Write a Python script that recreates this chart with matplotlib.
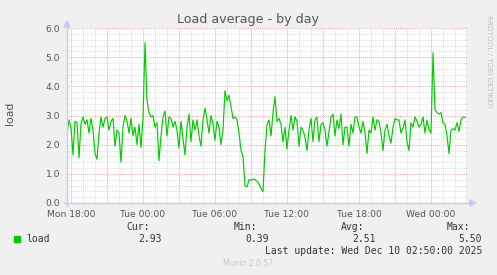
import matplotlib
matplotlib.use('Agg')
import matplotlib.pyplot as plt
import numpy as np

# load samples, 10 minute steps from Mon 17:40 to Wed 02:50
load = [
    2.40, 2.85, 2.60, 1.65, 2.80, 2.75, 1.55, 2.70, 2.95, 2.70,
    2.85, 2.40, 2.90, 2.50, 1.70, 1.50, 2.40, 2.95, 2.60, 2.90,
    2.95, 2.50, 2.80, 2.90, 1.95, 2.50, 2.40, 1.40, 2.60, 3.00,
    2.80, 2.40, 2.90, 2.30, 2.60, 2.00, 2.70, 1.90, 2.90, 5.50,
    3.50, 3.10, 2.95, 3.00, 2.60, 2.75, 1.45, 2.30, 2.95, 3.15,
    2.30, 2.95, 2.90, 2.60, 2.80, 2.50, 1.90, 2.80, 2.20, 1.65,
    2.60, 3.05, 2.10, 2.85, 2.50, 2.85, 2.30, 1.95, 2.85, 3.25,
    2.85, 2.40, 3.00, 2.70, 2.15, 2.80, 2.60, 2.00, 2.50, 3.85,
    3.50, 3.70, 3.30, 2.90, 2.95, 2.85, 2.40, 1.80, 1.60, 0.60,
    0.55, 0.80, 0.78, 0.82, 0.80, 0.75, 0.65, 0.50, 0.39, 1.80,
    2.70, 2.85, 2.30, 3.10, 3.65, 2.80, 2.90, 2.70, 2.10, 2.60,
    1.85, 2.50, 3.00, 2.50, 2.95, 2.80, 1.95, 2.60, 2.50, 2.25,
    1.80, 2.50, 2.90, 2.10, 2.85, 2.95, 2.10, 2.70, 2.75, 2.50,
    1.95, 2.45, 2.95, 3.05, 2.30, 2.85, 2.55, 3.05, 2.00, 2.60,
    2.60, 1.95, 2.70, 2.40, 2.95, 2.95, 2.60, 2.40, 2.80, 2.40,
    1.70, 2.50, 2.40, 2.95, 2.50, 2.85, 2.80, 2.40, 1.80, 2.50,
    2.70, 2.30, 2.05, 2.60, 2.90, 2.85, 2.85, 2.40, 2.55, 2.85,
    2.10, 1.80, 2.75, 2.60, 2.95, 2.80, 2.60, 2.70, 2.95, 2.40,
    2.85, 2.50, 2.40, 5.15, 3.20, 3.10, 3.05, 3.10, 2.75, 2.70,
    2.30, 1.70, 2.50, 2.55, 2.50, 2.75, 2.45, 2.85, 2.95, 2.93,
]
start_h = -1 / 3      # Mon 17:40, hours relative to Mon 18:00
step_h = 1 / 6
x_labels = ['Mon 18:00', 'Tue 00:00', 'Tue 06:00', 'Tue 12:00', 'Tue 18:00', 'Wed 00:00']
y_ticks = [0.0, 1.0, 2.0, 3.0, 4.0, 5.0, 6.0]
stats = {'Cur:': '2.93', 'Min:': '0.39', 'Avg:': '2.51', 'Max:': '5.50'}
last_update = 'Last update: Wed Dec 10 02:50:00 2025'

W, H = 497, 275
fig = plt.figure(figsize=(W / 100, H / 100), dpi=100)
fig.patch.set_facecolor('#F0F0F0')

# plot area: x 67..467, y 28..203 px
ax = fig.add_axes([67 / W, 1 - 203 / H, 400 / W, 175 / H])
ax.set_facecolor('white')

t = start_h + step_h * np.arange(len(load))
ax.set_xlim(-1 / 3, 33)
ax.set_ylim(0, 6)

dot = (0, (1, 1))
for h in range(0, 34):
    if h % 3 == 0:
        ax.axvline(h, color='#F2A8A8', lw=0.7, ls=dot, zorder=1)
    else:
        ax.axvline(h, color='#DCDCDC', lw=0.7, ls=dot, zorder=0)
for v in np.arange(0.2, 6.01, 0.2):
    if abs(v - round(v)) < 1e-6:
        ax.axhline(v, color='#F2A8A8', lw=0.7, ls=dot, zorder=1)
    else:
        ax.axhline(v, color='#DCDCDC', lw=0.7, ls=dot, zorder=0)

ax.plot(t, load, color='#00CC00', lw=0.85, zorder=3)

for s in ax.spines.values():
    s.set_visible(False)
ax.axvline(33, color='#999999', lw=1.0, zorder=4)
ax.tick_params(length=0)
ax.set_xticks([0, 6, 12, 18, 24, 30])
ax.set_xticklabels(x_labels, fontsize=6.6, color='#555555')
ax.set_yticks(y_ticks)
ax.set_yticklabels([f'{v:.1f}' for v in y_ticks], fontsize=6.6, color='#555555')
ax.tick_params(axis='x', pad=5)
ax.tick_params(axis='y', pad=5)

# axis lines with arrows (figure pixel coords)
axc = '#C8C8F4'
fig.add_artist(plt.Line2D([67 / W, 67 / W], [1 - 206 / H, 1 - 24 / H], color=axc, lw=1.0))
fig.add_artist(plt.Line2D([64 / W, 470 / W], [1 - 203 / H, 1 - 203 / H], color=axc, lw=1.0))
fig.add_artist(plt.Polygon([[64 / W, 1 - 27 / H], [70 / W, 1 - 27 / H], [67 / W, 1 - 21 / H]],
                           closed=True, color=axc, transform=fig.transFigure))
fig.add_artist(plt.Polygon([[470 / W, 1 - 200 / H], [470 / W, 1 - 206 / H], [476 / W, 1 - 203 / H]],
                           closed=True, color=axc, transform=fig.transFigure))

fig.text(248 / W, 1 - 19 / H, 'Load average - by day', ha='center', va='center',
         fontsize=9.1, color='#555555')
fig.text(10 / W, 1 - 113 / H, 'load', rotation=90, ha='center', va='center',
         fontsize=7.8, color='#555555')
fig.text(489 / W, 1 - 15 / H, 'RRDTOOL / TOBI OETIKER', rotation=270, ha='center', va='top',
         fontsize=5.2, color='#C0C0C0')

# legend
mono = 'DejaVu Sans Mono'
fig.patches.append(plt.Rectangle((14 / W, 1 - 242 / H), 6 / W, 6 / H, color='#00CC00',
                                 transform=fig.transFigure, figure=fig))
fig.text(26 / W, 1 - 239 / H, 'load', ha='left', va='center', fontsize=7, family=mono, color='#333333')
ends = [162, 269, 376, 482]
for (lab, val), xe in zip(stats.items(), ends):
    fig.text((xe - 12) / W, 1 - 227 / H, lab, ha='right', va='center', fontsize=7, family=mono, color='#333333')
    fig.text(xe / W, 1 - 239 / H, val, ha='right', va='center', fontsize=7, family=mono, color='#333333')
fig.text(482 / W, 1 - 251.5 / H, last_update, ha='right', va='center', fontsize=7, family=mono, color='#333333')
fig.text(248 / W, 1 - 264 / H, 'Munin 2.0.57', ha='center', va='center', fontsize=5.5, color='#C8C8C8')

fig.savefig('out.png', dpi=100, facecolor=fig.get_facecolor())
